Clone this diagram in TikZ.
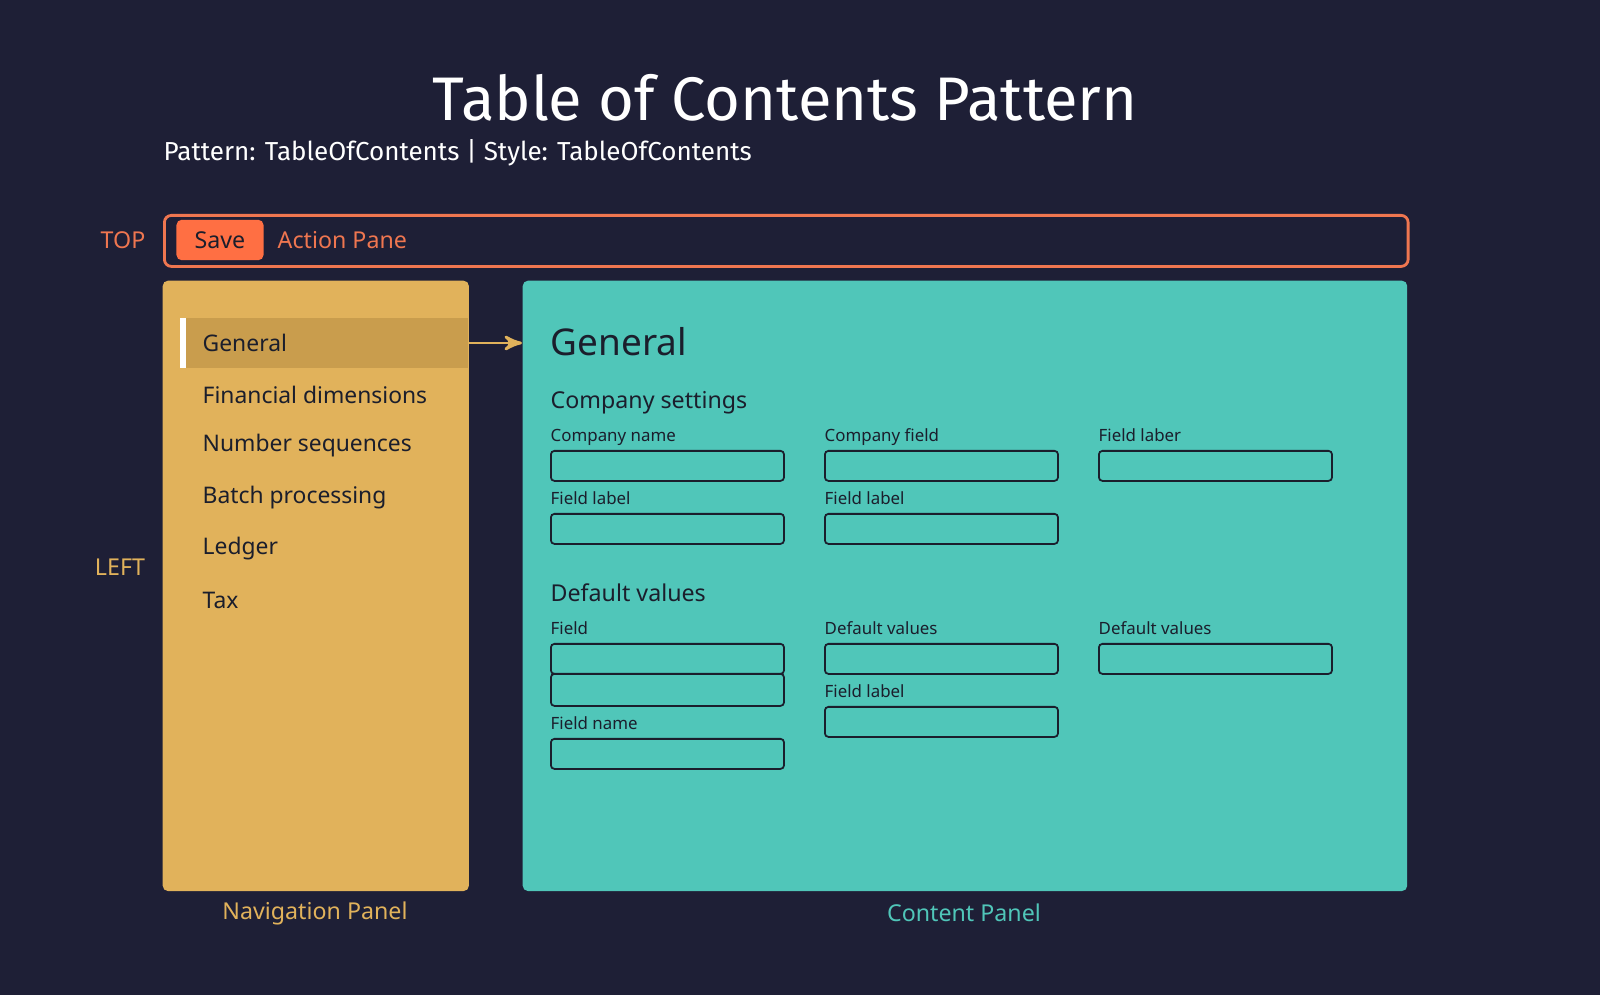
\documentclass[tikz,border=0pt]{standalone}
\usepackage{fontspec}
\setmainfont{Noto Sans}
\newfontfamily\titlefont{Fira Sans}
\usetikzlibrary{positioning, calc}
\usetikzlibrary{arrows}

\begin{document}
\begin{tikzpicture}[x=0.01cm, y=-0.01cm, >=stealth', font=\fontsize{6.6}{8}\selectfont]
        % Define colors
        \definecolor{bgdark}{HTML}{1E1F36}
        \definecolor{paneorange}{HTML}{EF7650}
        \definecolor{saveorange}{HTML}{FF6F43}
        \definecolor{navyellow}{HTML}{E1B25B}
        \definecolor{navhigh}{HTML}{C99D4D}
        \definecolor{teal}{HTML}{50C6B9}
        \definecolor{ink}{HTML}{1B1E2C}
        \tikzset{
            fieldbox/.style={draw=ink, line width=0.5pt, rounded corners=1pt, minimum width=2.33cm, minimum height=0.3cm, inner sep=0pt, anchor=north west},
            fieldlabel/.style={text=ink, anchor=base west, inner sep=0pt, font=\fontsize{4.8}{6}\selectfont},
            navitem/.style={text=ink, anchor=west, inner sep=0pt, font=\fontsize{6.5}{8}\selectfont},
            section/.style={text=ink, anchor=base west, inner sep=0pt, font=\fontsize{6.6}{8}\selectfont}
        }

        % Background
        \useasboundingbox (0,0) rectangle (1600,995);
        \fill[bgdark] (0,0) rectangle (1600,995);

        % Title
        \node[text=white, font=\titlefont\fontsize{17.5}{20}\selectfont] (title) at (785,98) {Table of Contents Pattern};
        \node[text=white, anchor=west, inner sep=0pt, font=\titlefont\fontsize{7.4}{9}\selectfont] (subtitle) at (163,153) {Pattern: TableOfContents | Style: TableOfContents};

        % Action pane
        \node[draw=paneorange, line width=0.8pt, rounded corners=2pt, minimum width=12.43cm, minimum height=0.51cm, anchor=north west] (pane) at (163,214) {};
        \node[fill=saveorange, rounded corners=1.5pt, minimum width=0.87cm, minimum height=0.32cm, text=ink] (save) at (220,240) {Save};
        \node[text=paneorange, anchor=west, inner sep=0pt] (panelbl) at (277,240) {Action Pane};
        \node[text=paneorange] (toplbl) at (123,240) {TOP};

        % Navigation panel
        \node[fill=navyellow, rounded corners=1.5pt, minimum width=3.06cm, minimum height=6.1cm, anchor=north west, inner sep=0pt] (nav) at (162,280) {};
        \fill[navhigh] (180,318) rectangle (468,368);
        \fill[white] (180,318) rectangle (186,368);
        \node[navitem] (nav1) at (202,343) {General};
        \node[navitem] (nav2) at (202,395) {Financial dimensions};
        \node[navitem] (nav3) at (202,446) {Number sequences};
        \node[navitem] (nav4) at (202,498) {Batch processing};
        \node[navitem] (nav5) at (202,549) {Ledger};
        \node[navitem] (nav6) at (202,600) {Tax};
        \node[text=navyellow] (leftlbl) at (120,567) {LEFT};
        \node[text=navyellow] (navlbl) at (315,913) {Navigation Panel};

        % Content panel
        \node[fill=teal, rounded corners=1.5pt, minimum width=8.84cm, minimum height=6.1cm, anchor=north west, inner sep=0pt] (content) at (522,280) {};
        \node[text=teal] (contentlbl) at (964,913) {Content Panel};
        \coordinate (navout) at (468,343);
        \coordinate (contentin) at (522,343);
        \draw[->, navyellow, line width=0.8pt] (navout) -- (contentin);

        \node[text=ink, anchor=west, inner sep=0pt, font=\fontsize{10.5}{12}\selectfont] (heading) at (550,342) {General};
        \node[section] (sec1) at (550,409) {Company settings};
        \node[section] (sec2) at (550,602) {Default values};

        % Fields
        \foreach \x/\y/\lbl [count=\i] in {550/450/Company name, 824/450/Company field, 1098/450/Field laber,
                                           550/513/Field label, 824/513/Field label,
                                           550/643/Field, 824/643/Default values, 1098/643/Default values,
                                           550/738/Field name, 824/706/Field label} {
            \node[fieldlabel] (lbl\i) at (\x,\y-8) {\lbl};
            \node[fieldbox] (field\i) at (\x,\y) {};
        }
        \node[fieldbox, minimum height=0.32cm] (field6b) at (550,673) {};
\end{tikzpicture}
\end{document}
